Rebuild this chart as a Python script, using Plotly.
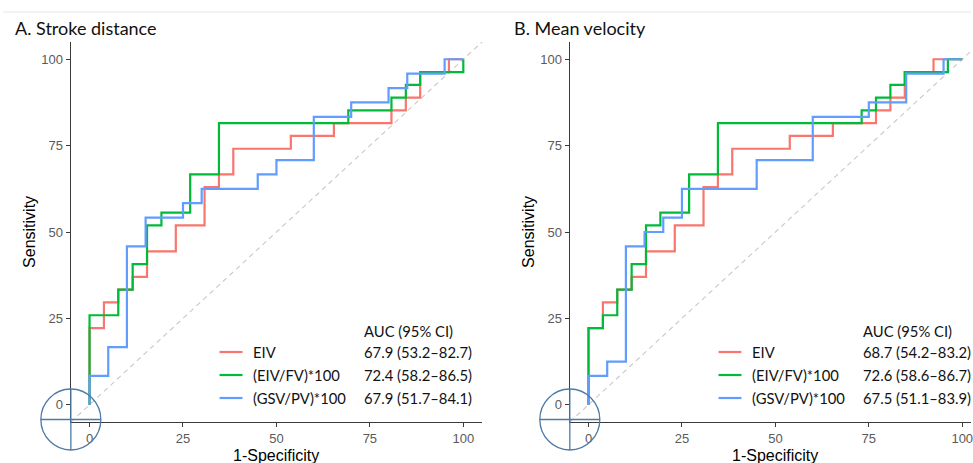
import plotly.graph_objects as go

W, H = 973, 463

# ---------------- data ----------------
TICKS = [0, 25, 50, 75, 100]
SERIES_NAMES = ["EIV", "(EIV/FV)*100", "(GSV/PV)*100"]
COLORS = ["#F8766D", "#00BA38", "#619CFF"]
LEGEND_HEADER = "AUC (95% CI)"
X_TITLE = "1-Specificity"
Y_TITLE = "Sensitivity"

# Panel A: Stroke distance (ROC corner points, percent)
A_TITLE = "A. Stroke distance"
A_EIV_FPR = [0, 3.85, 7.69, 11.54, 15.38, 23.08, 30.77, 34.62, 38.46, 53.85, 65.38, 80.77, 84.62, 88.46, 96.15, 100]
A_EIV_TPR = [0, 22.2, 29.6, 33.3, 37.0, 44.4, 51.9, 63.0, 66.7, 74.1, 77.8, 81.5, 85.2, 88.9, 96.3, 100]
A_RATIO_FPR = [0, 7.69, 11.54, 15.38, 19.23, 26.92, 34.62, 69.23, 80.77, 84.62, 88.46, 100, 100]
A_RATIO_TPR = [0, 25.9, 33.3, 40.7, 51.9, 55.6, 66.7, 81.5, 85.2, 88.9, 92.6, 96.3, 100]
A_GSV_FPR = [0, 5, 10, 15, 25, 30, 45, 50, 60, 70, 80, 85, 95, 100]
A_GSV_TPR = [0, 8.33, 16.67, 45.83, 54.17, 58.33, 62.5, 66.67, 70.83, 83.33, 87.5, 91.67, 95.83, 100]
A_AUC = ["67.9 (53.2–82.7)", "72.4 (58.2–86.5)", "67.9 (51.7–84.1)"]

# Panel B: Mean velocity
B_TITLE = "B. Mean velocity"
B_EIV_FPR = [0, 3.85, 7.69, 11.54, 15.38, 23.08, 30.77, 34.62, 38.46, 53.85, 65.38, 76.92, 80.77, 84.62, 92.31, 100]
B_EIV_TPR = [0, 22.2, 29.6, 33.3, 37.0, 44.4, 51.9, 63.0, 66.7, 74.1, 77.8, 81.5, 85.2, 88.9, 96.3, 100]
B_RATIO_FPR = [0, 3.85, 7.69, 11.54, 15.38, 19.23, 26.92, 34.62, 73.08, 76.92, 80.77, 84.62, 96.15, 100]
B_RATIO_TPR = [0, 22.2, 25.9, 33.3, 40.7, 51.9, 55.6, 66.7, 81.5, 85.2, 88.9, 92.6, 96.3, 100]
B_GSV_FPR = [0, 5, 10, 15, 20, 25, 45, 60, 75, 85, 95, 100]
B_GSV_TPR = [0, 8.33, 12.5, 45.83, 50, 54.17, 62.5, 70.83, 83.33, 87.5, 95.83, 100]
B_AUC = ["68.7 (54.2–83.2)", "72.6 (58.6–86.7)", "67.5 (51.1–83.9)"]

X_RANGE_A = [-5, 105]
X_RANGE_B = [-5, 102.34]
Y_RANGE = [-5, 105]

# ---------------- layout helpers ----------------
def px(x):
    return x / W

def py(y):
    return 1 - y / H

TXT_FONT = "Lato, 'Open Sans', sans-serif"
AX_FONT = "'Liberation Sans', Arial, sans-serif"
AX_COLOR = "#3a3a3a"
CIRCLE_COLOR = "#4d7aa8"
LEG_SIZE = 14.8

panels = [
    dict(xa="x", ya="y", xr=X_RANGE_A, x0=71, x1=483, off=0, title=A_TITLE,
         series=[(A_EIV_FPR, A_EIV_TPR), (A_RATIO_FPR, A_RATIO_TPR), (A_GSV_FPR, A_GSV_TPR)], auc=A_AUC),
    dict(xa="x2", ya="y2", xr=X_RANGE_B, x0=571, x1=W, off=500, title=B_TITLE,
         series=[(B_EIV_FPR, B_EIV_TPR), (B_RATIO_FPR, B_RATIO_TPR), (B_GSV_FPR, B_GSV_TPR)], auc=B_AUC),
]

fig = go.Figure()
shapes = []
annotations = []

Y_DOMAIN = [py(422), py(42)]

for p in panels:
    # diagonal reference line across whole panel
    lo = min(p["xr"][0], Y_RANGE[0])
    hi = max(p["xr"][1], Y_RANGE[1])
    fig.add_trace(go.Scatter(x=[lo, hi], y=[lo, hi], mode="lines", xaxis=p["xa"], yaxis=p["ya"],
                             line=dict(color="#c8c8c8", width=1.1, dash="5px,4px"),
                             showlegend=False, hoverinfo="skip"))
    for (fx, ty), name, col in zip(p["series"], SERIES_NAMES, COLORS):
        fig.add_trace(go.Scatter(x=fx, y=ty, mode="lines", name=name, xaxis=p["xa"], yaxis=p["ya"],
                                 line=dict(color=col, width=2.2, shape="vh"), showlegend=False))

    off = p["off"]
    # title
    annotations.append(dict(text=p["title"], x=px(13 + off), y=py(28), xref="paper", yref="paper",
                            xanchor="left", yanchor="middle", showarrow=False,
                            font=dict(family=TXT_FONT, size=18, color="#111111")))
    # axis titles
    annotations.append(dict(text=Y_TITLE, x=px(30 + off), y=py(232), xref="paper", yref="paper",
                            xanchor="center", yanchor="middle", textangle=-90, showarrow=False,
                            font=dict(family=AX_FONT, size=16, color="#000000")))
    annotations.append(dict(text=X_TITLE, x=px(277 + off), y=py(455), xref="paper", yref="paper",
                            xanchor="center", yanchor="middle", showarrow=False,
                            font=dict(family=AX_FONT, size=16, color="#000000")))
    # legend
    annotations.append(dict(text=LEGEND_HEADER, x=px(363 + off), y=py(331), xref="paper", yref="paper",
                            xanchor="left", yanchor="middle", showarrow=False,
                            font=dict(family=TXT_FONT, size=LEG_SIZE, color="#111111")))
    for i, (name, col, auc) in enumerate(zip(SERIES_NAMES, COLORS, p["auc"])):
        yy = 352 + i * 23
        shapes.append(dict(type="line", xref="paper", yref="paper", x0=px(220 + off), x1=px(243 + off),
                           y0=py(yy), y1=py(yy), line=dict(color=col, width=2.2)))
        annotations.append(dict(text=name, x=px(252 + off), y=py(yy), xref="paper", yref="paper",
                                xanchor="left", yanchor="middle", showarrow=False,
                                font=dict(family=TXT_FONT, size=LEG_SIZE, color="#111111")))
        annotations.append(dict(text=auc, x=px(363 + off), y=py(yy), xref="paper", yref="paper",
                                xanchor="left", yanchor="middle", showarrow=False,
                                font=dict(family=TXT_FONT, size=LEG_SIZE, color="#111111")))
    # circle highlight at origin corner
    cx, cy = px(p["x0"]), Y_DOMAIN[0]
    shapes.append(dict(type="circle", xref="paper", yref="paper", xsizemode="pixel", ysizemode="pixel",
                       xanchor=cx, yanchor=cy, x0=-30, x1=30, y0=-28, y1=33, layer="above",
                       line=dict(color=CIRCLE_COLOR, width=1.3)))
    shapes.append(dict(type="line", xref="paper", yref="paper", xsizemode="pixel", ysizemode="pixel",
                       xanchor=cx, yanchor=cy, x0=-30, x1=30, y0=2.5, y1=2.5, layer="above",
                       line=dict(color=CIRCLE_COLOR, width=1.3)))
    shapes.append(dict(type="line", xref="paper", yref="paper", xsizemode="pixel", ysizemode="pixel",
                       xanchor=cx, yanchor=cy, x0=0, x1=0, y0=-28, y1=33, layer="above",
                       line=dict(color=CIRCLE_COLOR, width=1.3)))

# top separator line
shapes.append(dict(type="line", xref="paper", yref="paper", x0=px(3), x1=1, y0=py(12), y1=py(12),
                   line=dict(color="#e6e6e6", width=1)))

axis_common = dict(showline=True, linecolor=AX_COLOR, linewidth=1.4, ticks="outside", ticklen=4,
                   tickwidth=1, tickcolor=AX_COLOR, tickvals=TICKS, showgrid=False, zeroline=False,
                   tickfont=dict(family=AX_FONT, size=13, color="#5a5a5a"), fixedrange=True)

fig.update_layout(
    width=W, height=H, margin=dict(l=0, r=0, t=0, b=0),
    paper_bgcolor="white", plot_bgcolor="white", showlegend=False,
    xaxis=dict(domain=[px(71), px(483)], range=X_RANGE_A, anchor="y", **axis_common),
    yaxis=dict(domain=Y_DOMAIN, range=Y_RANGE, anchor="x", **axis_common),
    xaxis2=dict(domain=[px(571), 1.0], range=X_RANGE_B, anchor="y2", ticklabeloverflow="allow",
                **axis_common),
    yaxis2=dict(domain=Y_DOMAIN, range=Y_RANGE, anchor="x2", **axis_common),
    shapes=shapes, annotations=annotations,
)

fig.write_html("out.html", config={"displayModeBar": False},
               post_script="document.body.style.margin='0';document.body.style.overflow='hidden';")
